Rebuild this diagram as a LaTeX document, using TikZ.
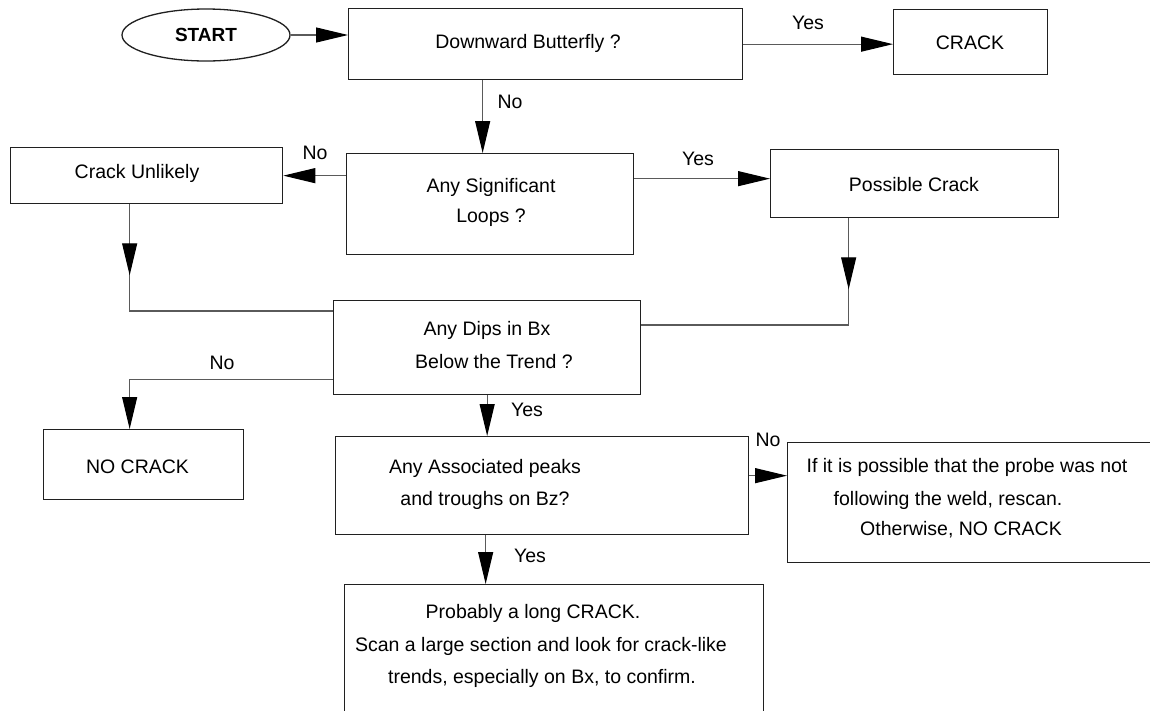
\documentclass[tikz,border=0pt]{standalone}
\usepackage{fontspec}
\setmainfont{Liberation Sans}
\usetikzlibrary{arrows.meta,decorations.markings,shapes.geometric}
\definecolor{boxline}{HTML}{202020}
\definecolor{connline}{HTML}{5A5A5A}
\begin{document}
\begin{tikzpicture}[x=1pt,y=-1pt,
  box/.style={draw=boxline, line width=1.3pt, rectangle, inner sep=0pt, anchor=north west},
  txt/.style={font=\fontsize{19.5}{23}\selectfont, inner sep=0pt, text=black},
  conn/.style={draw=connline, line width=1.1pt},
  tipstyle/.tip={Triangle[length=32pt,width=15pt,color=black]},
  arr/.style={conn, -tipstyle},
  midarr/.style={decoration={markings, mark=at position 71pt with {\arrow{tipstyle}}}, postaction={decorate}}]
\path[use as bounding box] (0,0) rectangle (1150,710);
\clip (0,0) rectangle (1150,710);
% shapes
\node[ellipse, draw=boxline, line width=1.3pt, minimum width=168pt, minimum height=52pt, inner sep=0pt] (start) at (206,35) {};
\node[box, minimum width=394pt, minimum height=71pt] (b1) at (348,8) {};
\node[box, minimum width=154pt, minimum height=65pt] (crack) at (893,9) {};
\node[box, minimum width=287pt, minimum height=101pt] (q2) at (346,153) {};
\node[box, minimum width=272pt, minimum height=56pt] (cu) at (10,147) {};
\node[box, minimum width=288pt, minimum height=68pt] (pc) at (770,149) {};
\node[box, minimum width=307pt, minimum height=94pt] (dips) at (333,300) {};
\node[box, minimum width=200pt, minimum height=70pt] (nc) at (43,429) {};
\node[box, minimum width=413pt, minimum height=98pt] (as) at (335,436) {};
\node[box, minimum width=400pt, minimum height=120pt] (rb) at (787,442) {};
\node[box, minimum width=419pt, minimum height=150pt] (bb) at (344,584) {};
% texts
\node[txt, font=\fontsize{19}{23}\selectfont\bfseries] (tstart) at (206,35) {START};
\node[txt] (t1) at (528,43) {Downward Butterfly ?};
\node[txt] (tcr) at (970,43) {CRACK};
\node[txt] (tq2a) at (491,187) {Any Significant};
\node[txt] (tq2b) at (491,218) {Loops ?};
\node[txt] (tcu) at (137,173) {Crack Unlikely};
\node[txt] (tpc) at (914,185) {Possible Crack};
\node[txt] (td1) at (487,330) {Any Dips in Bx};
\node[txt] (td2) at (494,362) {Below the Trend ?};
\node[txt] (tnc) at (137.5,467) {NO CRACK};
\node[txt] (ta1) at (485,468) {Any Associated peaks};
\node[txt] (ta2) at (485,500) {and troughs on Bz?};
\node[txt] (tr1) at (967,467) {If it is possible that the probe was not};
\node[txt] (tr2) at (948,500) {following the weld, rescan.};
\node[txt] (tr3) at (961,530) {Otherwise, NO CRACK};
\node[txt] (tb1) at (533,613) {Probably a long CRACK.};
\node[txt] (tb2) at (541,646) {Scan a large section and look for crack-like};
\node[txt] (tb3) at (542,678) {trends, especially on Bx, to confirm.};
% labels
\node[txt] (l1) at (808,23) {Yes};
\node[txt] (l2) at (510,102) {No};
\node[txt] (l3) at (315,153) {No};
\node[txt] (l4) at (698,159) {Yes};
\node[txt] (l5) at (222,363) {No};
\node[txt] (l6) at (527,410) {Yes};
\node[txt] (l7) at (768,440) {No};
\node[txt] (l8) at (530,556) {Yes};
% helper coordinates
\coordinate (q2in) at ([xshift=-7.5pt]q2.north);
\coordinate (pcin) at ([yshift=5pt]pc.west);
\coordinate (cuout) at ([xshift=-17pt]cu.south);
\coordinate (dipsinL) at ([yshift=-11pt]dips.north west);
\coordinate (pcout) at ([xshift=-66pt]pc.south);
\coordinate (dipsinR) at ([yshift=-25pt]dips.north east);
\coordinate (dipsout) at ([yshift=16pt]dips.south west);
\coordinate (ncin) at ([xshift=-14pt]nc.north);
\coordinate (asout) at ([yshift=10pt]as.east);
\coordinate (asdown) at ([xshift=-56.5pt]as.south);
% connectors
\draw[arr] (start.east) -- (start.east -| b1.west);
\draw[arr] (b1.east) -- (b1.east -| crack.west);
\draw[arr] (q2in |- b1.south) -- (q2in);
\draw[arr] (cu.east -| q2.west) -- (cu.east);
\draw[arr] (pcin -| q2.east) -- (pcin);
\draw[conn, midarr] (cuout) |- (dipsinL);
\draw[conn, midarr] (pcout) |- (dipsinR);
\draw[arr] (dipsout) -| (ncin);
\draw[arr] (dips.south) -- (dips.south |- as.north);
\draw[arr] (asout) -- (asout -| rb.west);
\draw[arr] (asdown) -- (asdown |- bb.north);
\end{tikzpicture}
\end{document}
